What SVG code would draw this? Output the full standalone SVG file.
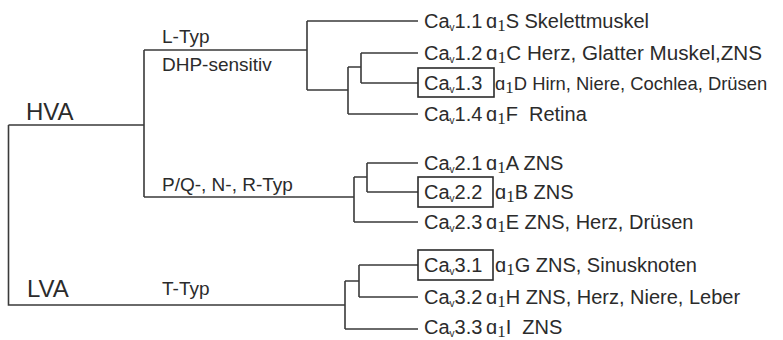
<svg xmlns="http://www.w3.org/2000/svg" width="783" height="340" viewBox="0 0 783 340">
<style>
text{font-family:"Liberation Sans",Arial,sans-serif;fill:#2b2b2b;white-space:pre}
.big{font-size:24px}
.mid{font-size:19px}
.lab{font-size:20px}
.sv{font-size:10px}
.s1{font-family:"Liberation Serif","Times New Roman",serif;font-size:17px}
.ln{fill:none;stroke:#3a3a3a;stroke-width:1.6}
.box{fill:none;stroke:#2b2b2b;stroke-width:1.6}
</style>
<rect width="783" height="340" fill="#ffffff"/>
<g id="connectors" class="ln">
<path d="M8.5,125 H144 M144,50 V197 M8.5,125 V305 H345"/>
<path d="M144,50 H307 M307,21 V90 M307,21 H418 M307,90 H348 M348,67 V114 M348,67 H361 M361,53 V83 M361,53 H418 M361,83 H418 M348,114 H418"/>
<path d="M144,197 H354 M354,177 V222 M354,177 H367 M367,163 V192 M367,163 H418 M367,192 H418 M354,222 H418"/>
<path d="M345,281 V329 M345,281 H359 M359,265 V297 M359,265 H418 M359,297 H418 M345,329 H418"/>
</g>
<g id="HVA"><text class="big" x="26" y="120">HVA</text></g>
<g id="LVA"><text class="big" x="27" y="297">LVA</text></g>
<g id="L-Typ"><text class="mid" x="162" y="43">L-Typ</text><text class="mid" x="162" y="71">DHP-sensitiv</text></g>
<g id="PQNR-Typ"><text class="mid" x="162" y="191">P/Q-, N-, R-Typ</text></g>
<g id="T-Typ"><text class="mid" x="162" y="295">T-Typ</text></g>

<g id="Cav1.1"><text class="lab" x="424" y="28">Ca<tspan class="sv" dy="3">v</tspan><tspan dy="-3">1.1</tspan></text><text class="lab" x="486" y="28">ɑ<tspan class="s1" dy="3">1</tspan><tspan dy="-3">S Skelettmuskel</tspan></text></g>
<g id="Cav1.2"><text class="lab" x="424" y="60">Ca<tspan class="sv" dy="3">v</tspan><tspan dy="-3">1.2</tspan></text><text class="lab" x="486" y="60" textLength="276" lengthAdjust="spacingAndGlyphs">ɑ<tspan class="s1" dy="3">1</tspan><tspan dy="-3">C Herz, Glatter Muskel,ZNS</tspan></text></g>
<g id="Cav1.3"><rect class="box" x="418" y="68" width="76" height="29"/><text class="lab" x="424" y="90">Ca<tspan class="sv" dy="3">v</tspan><tspan dy="-3">1.3</tspan></text><text class="lab" x="495" y="90" style="font-size:18.4px">ɑ<tspan class="s1" dy="3">1</tspan><tspan dy="-3">D Hirn, Niere, Cochlea, Drüsen</tspan></text></g>
<g id="Cav1.4"><text class="lab" x="424" y="121">Ca<tspan class="sv" dy="3">v</tspan><tspan dy="-3">1.4</tspan></text><text class="lab" x="486" y="121">ɑ<tspan class="s1" dy="3">1</tspan><tspan dy="-3">F  Retina</tspan></text></g>

<g id="Cav2.1"><text class="lab" x="424" y="170">Ca<tspan class="sv" dy="3">v</tspan><tspan dy="-3">2.1</tspan></text><text class="lab" x="486" y="170">ɑ<tspan class="s1" dy="3">1</tspan><tspan dy="-3">A ZNS</tspan></text></g>
<g id="Cav2.2"><rect class="box" x="418" y="177" width="75" height="30"/><text class="lab" x="424" y="199">Ca<tspan class="sv" dy="3">v</tspan><tspan dy="-3">2.2</tspan></text><text class="lab" x="495" y="199">ɑ<tspan class="s1" dy="3">1</tspan><tspan dy="-3">B ZNS</tspan></text></g>
<g id="Cav2.3"><text class="lab" x="424" y="229">Ca<tspan class="sv" dy="3">v</tspan><tspan dy="-3">2.3</tspan></text><text class="lab" x="486" y="229">ɑ<tspan class="s1" dy="3">1</tspan><tspan dy="-3">E ZNS, Herz, Drüsen</tspan></text></g>

<g id="Cav3.1"><rect class="box" x="418" y="250" width="75" height="30"/><text class="lab" x="424" y="272">Ca<tspan class="sv" dy="3">v</tspan><tspan dy="-3">3.1</tspan></text><text class="lab" x="495" y="272">ɑ<tspan class="s1" dy="3">1</tspan><tspan dy="-3">G ZNS, Sinusknoten</tspan></text></g>
<g id="Cav3.2"><text class="lab" x="424" y="304">Ca<tspan class="sv" dy="3">v</tspan><tspan dy="-3">3.2</tspan></text><text class="lab" x="486" y="304">ɑ<tspan class="s1" dy="3">1</tspan><tspan dy="-3">H ZNS, Herz, Niere, Leber</tspan></text></g>
<g id="Cav3.3"><text class="lab" x="424" y="334">Ca<tspan class="sv" dy="3">v</tspan><tspan dy="-3">3.3</tspan></text><text class="lab" x="486" y="334">ɑ<tspan class="s1" dy="3">1</tspan><tspan dy="-3">I  ZNS</tspan></text></g>
</svg>
